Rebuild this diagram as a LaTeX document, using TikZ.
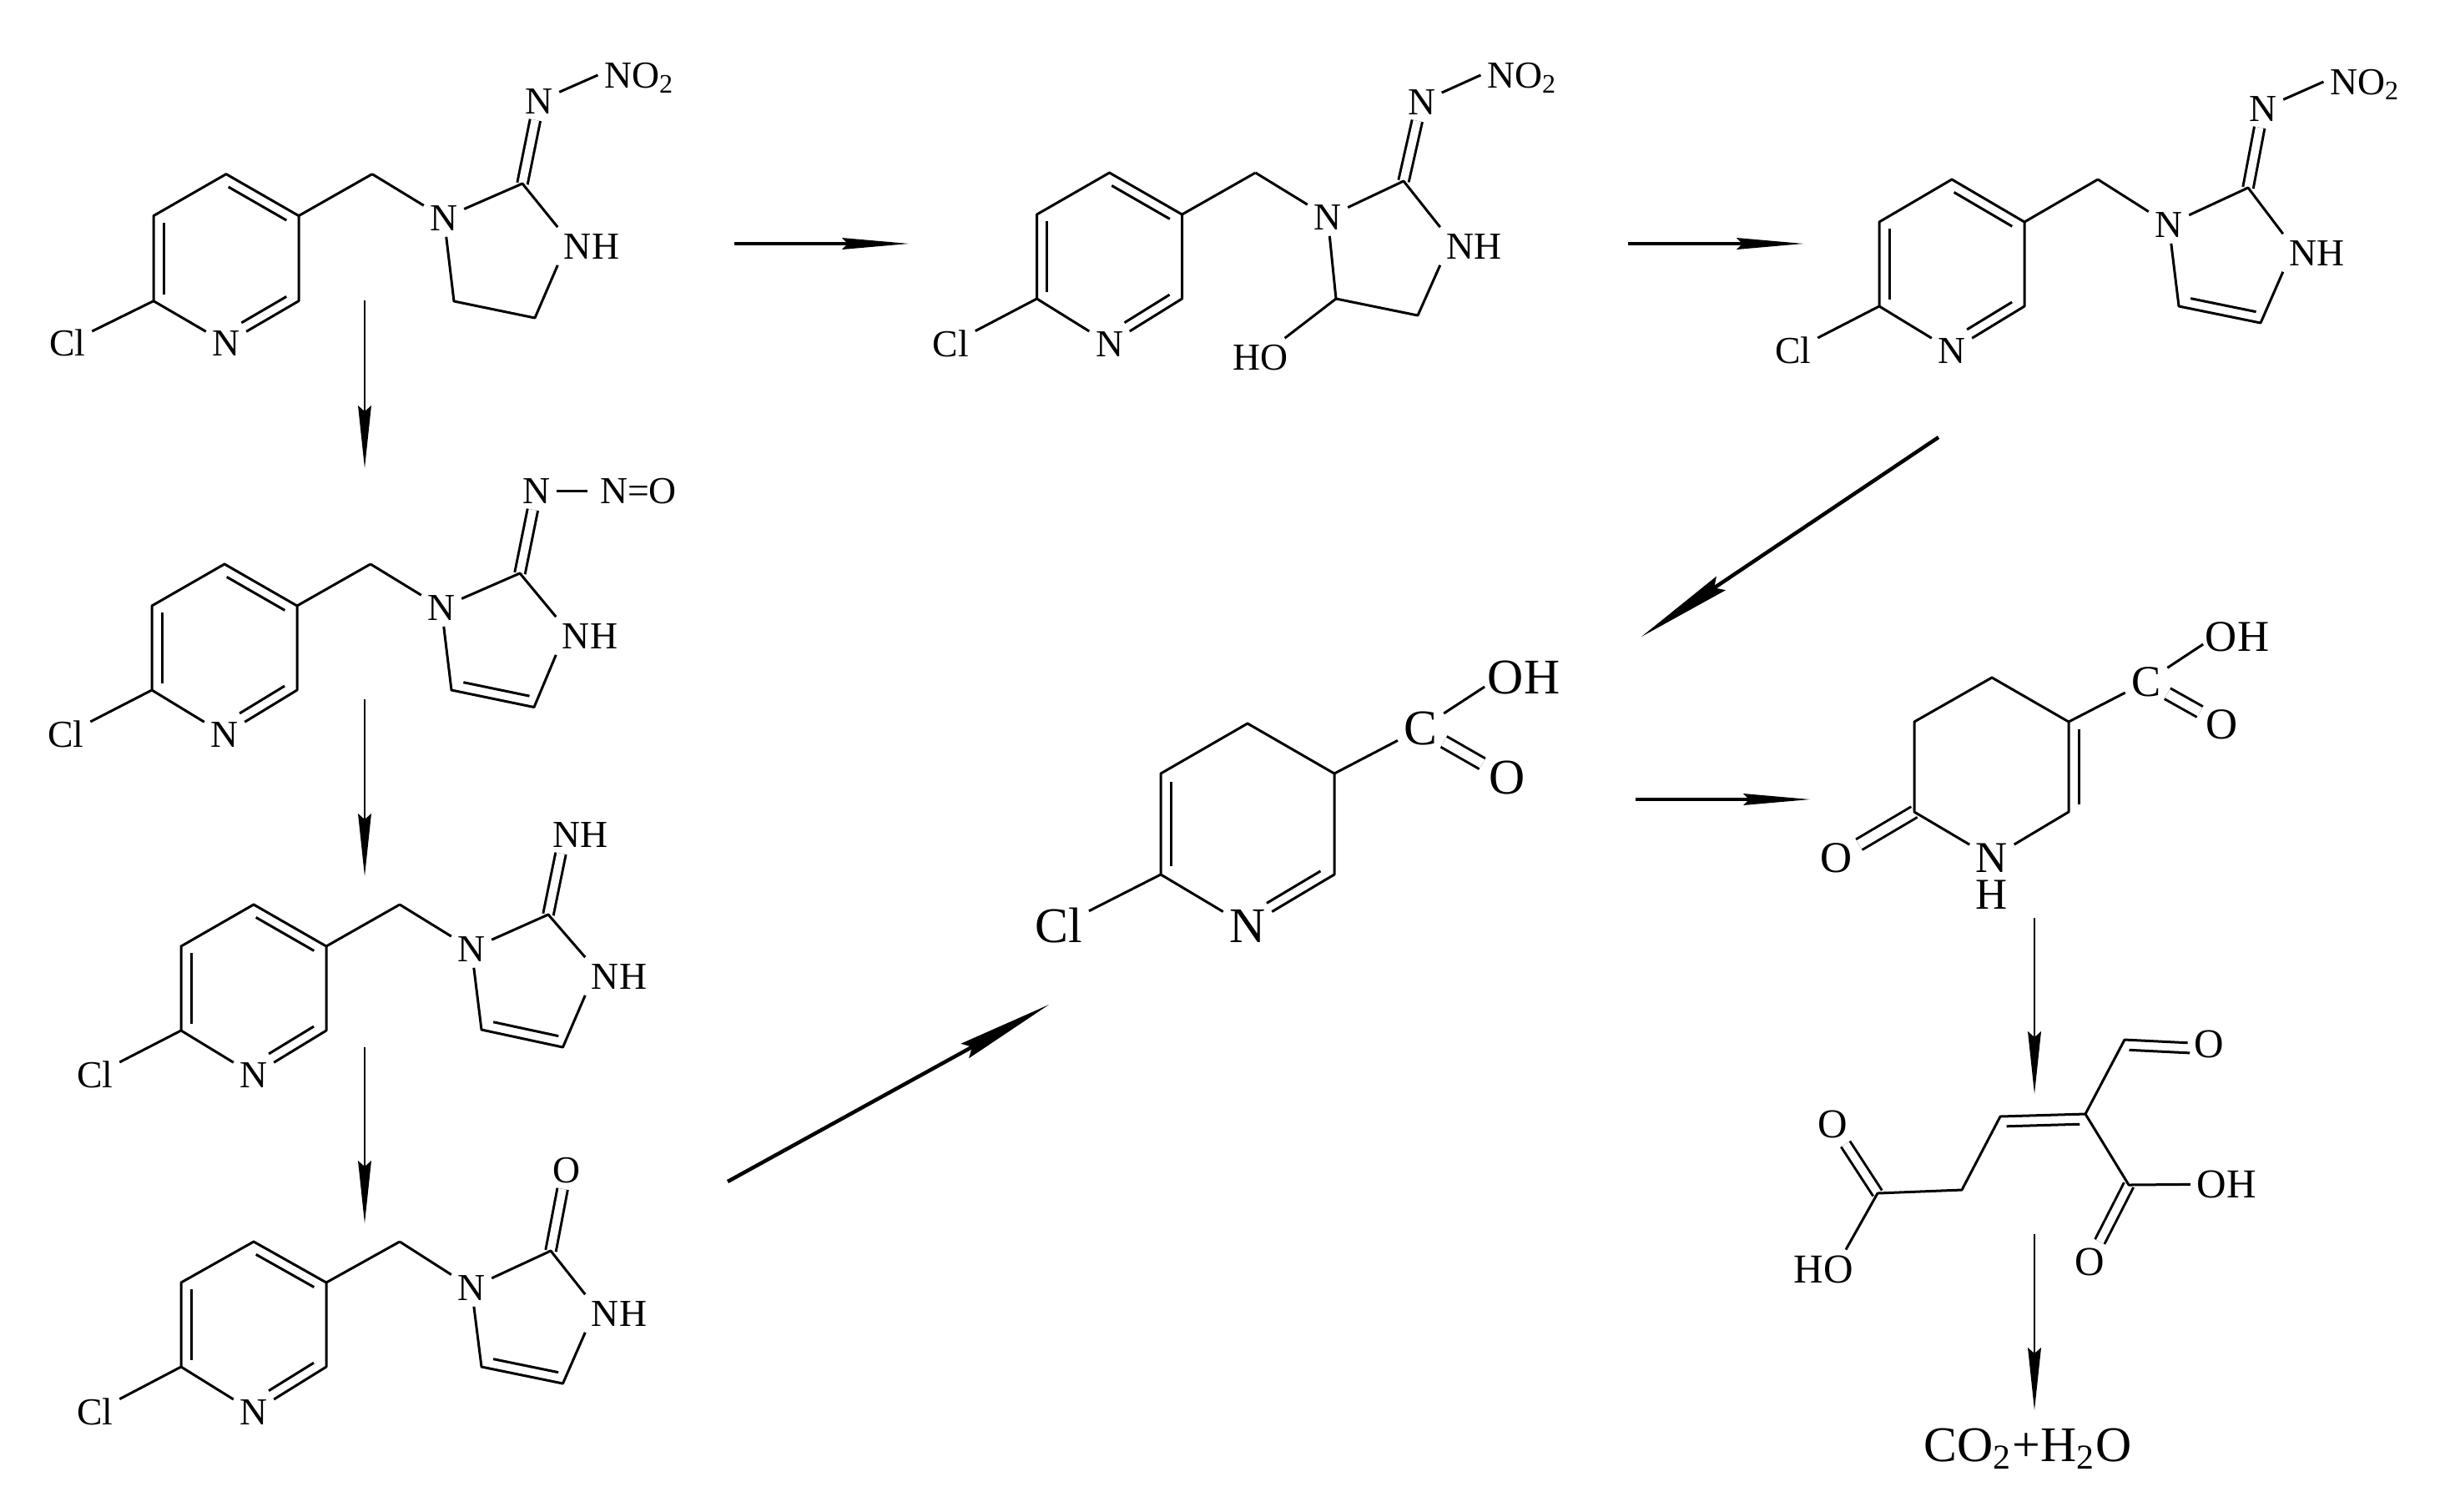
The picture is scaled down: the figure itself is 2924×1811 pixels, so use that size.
\documentclass[tikz,border=0pt]{standalone}
\usepackage{fontspec}
\setmainfont{Liberation Serif}
\usetikzlibrary{arrows.meta,calc}

\tikzset{
    atomo/.style={font=\fontsize{#1}{#1}\selectfont, text height=0.66*#1pt, text depth=0pt, inner sep=0.07cm},
    atomo/.default=13,
    enlace/.style={line width=0.03cm, line join=round},
    enlacedoble/.style={enlace, double, double distance=0.095cm},
    flecha/.style={line width=0.022cm, -{Stealth[length=0.75cm,width=0.16cm,inset=0.07cm,line width=0pt]}},
    flechah/.style={line width=0.04cm, -{Stealth[length=0.8cm,width=0.14cm,inset=0.07cm,line width=0pt]}},
    flechal/.style={line width=0.045cm, -{Stealth[length=1.15cm,width=0.2cm,inset=0.1cm,line width=0pt]}}
}
% Linea interior de un enlace doble
\newcommand{\inbond}[5]{\draw[enlace] ($(#1)!#4!(#2)!0.12cm!#3:(#2)$) -- ($(#1)!#5!(#2)!0.12cm!#3:(#2)$);}

\begin{document}
\begin{tikzpicture}[x=0.01cm,y=-0.01cm]
    \useasboundingbox (0,0) rectangle (2924,1811);

    % Anillos con Cl y CH2
    \foreach \m/\cx/\yt/\yu/\yl/\yn in {m1/271/208.6/258.6/360.7/411.4, m2/269/676/726/827/880,
        m3/304/1084/1134/1235/1288, m4/304/1488/1537/1638/1692,
        m5/1329.5/207/257/358/412, m6/2339/215/266/367/420}{
        \coordinate (\m top) at (\cx,\yt);
        \coordinate (\m ur) at (\cx+87,\yu);
        \coordinate (\m ul) at (\cx-87,\yu);
        \coordinate (\m ll) at (\cx-87,\yl);
        \coordinate (\m lr) at (\cx+87,\yl);
        \coordinate (\m ch) at (\cx+175,\yt);
        \node[atomo] (\m n) at (\cx,\yn) {N};
        \node[atomo] (\m cl) at (\cx-190,\yn) {Cl};
        \draw[enlace] (\m cl) -- (\m ll) -- (\m ul) -- (\m top) -- (\m ur) -- (\m lr) -- (\m n);
        \draw[enlace] (\m ll) -- (\m n);
        \draw[enlace] (\m ur) -- (\m ch);
        \inbond{\m ul}{\m ll}{90}{.08}{.92}
        \inbond{\m top}{\m ur}{-90}{.1}{.9}
        \inbond{\m lr}{\m n}{-90}{.1}{.72}
    }

    % Molecula 1
    \node[atomo] (m1na) at (532,261) {N};
    \coordinate (m1c) at (626,220);
    \node[atomo] (m1nb) at (646,121) {N};
    \node[atomo] (m1no) at (766,90) {NO\textsubscript{2}};
    \node[atomo] (m1nh) at (709,295) {NH};
    \coordinate (m1p) at (544,361);
    \coordinate (m1q) at (641,381);
    \draw[enlacedoble] (m1c) -- (m1nb);
    \draw[enlace] (m1nb) -- (m1no.west);
    \draw[enlace] (m1ch) -- (m1na);
    \draw[enlace] (m1na) -- (m1c) -- (m1nh.north west);
    \draw[enlace] (m1na) -- (m1p) -- (m1q) -- (m1nh.south west);

    % Molecula 2
    \node[atomo] (m2na) at (529,728) {N};
    \coordinate (m2c) at (623,687);
    \node[atomo] (m2nb) at (643,588) {N};
    \node[atomo] (m2no) at (765,588) {N=O};
    \node[atomo] (m2nh) at (707,762) {NH};
    \coordinate (m2p) at (541,827);
    \coordinate (m2q) at (640,847.5);
    \draw[enlacedoble] (m2c) -- (m2nb);
    \draw[enlace, shorten >=0.07cm] (m2nb) -- (m2no);
    \draw[enlace] (m2ch) -- (m2na);
    \draw[enlace] (m2na) -- (m2c) -- (m2nh.north west);
    \draw[enlace] (m2na) -- (m2p) -- (m2q) -- (m2nh.south west);
    \inbond{m2p}{m2q}{90}{.12}{.92}

    % Molecula 3
    \node[atomo] (m3na) at (565,1137) {N};
    \coordinate (m3c) at (657,1096);
    \node[atomo] (m3nb) at (696,1000) {NH};
    \node[atomo] (m3nh) at (742,1170) {NH};
    \coordinate (m3p) at (577,1234);
    \coordinate (m3q) at (674.5,1255);
    \draw[enlacedoble] (m3c) -- ($(m3nb.south)+(-24,0)$);
    \draw[enlace] (m3ch) -- (m3na);
    \draw[enlace] (m3na) -- (m3c) -- (m3nh.north west);
    \draw[enlace] (m3na) -- (m3p) -- (m3q) -- (m3nh.south west);
    \inbond{m3p}{m3q}{90}{.12}{.92}

    % Molecula 4
    \node[atomo] (m4na) at (565,1543) {N};
    \coordinate (m4c) at (660,1499);
    \node[atomo] (m4o) at (678.5,1402) {O};
    \node[atomo] (m4nh) at (742,1574) {NH};
    \coordinate (m4p) at (577,1638);
    \coordinate (m4q) at (674.5,1658);
    \draw[enlacedoble] (m4c) -- (m4o);
    \draw[enlace] (m4ch) -- (m4na);
    \draw[enlace] (m4na) -- (m4c) -- (m4nh.north west);
    \draw[enlace] (m4na) -- (m4p) -- (m4q) -- (m4nh.south west);
    \inbond{m4p}{m4q}{90}{.12}{.92}

    % Molecula 5
    \node[atomo] (m5na) at (1591,260) {N};
    \coordinate (m5c) at (1682,217);
    \node[atomo] (m5nb) at (1703.5,122) {N};
    \node[atomo] (m5no) at (1824,90) {NO\textsubscript{2}};
    \node[atomo] (m5nh) at (1766.5,295) {NH};
    \coordinate (m5p) at (1601,358);
    \coordinate (m5q) at (1699,378);
    \node[atomo] (m5ho) at (1510,428) {HO};
    \draw[enlacedoble] (m5c) -- (m5nb);
    \draw[enlace] (m5nb) -- (m5no.west);
    \draw[enlace] (m5ch) -- (m5na);
    \draw[enlace] (m5na) -- (m5c) -- (m5nh.north west);
    \draw[enlace] (m5na) -- (m5p) -- (m5q) -- (m5nh.south west);
    \draw[enlace] (m5p) -- (m5ho);

    % Molecula 6
    \node[atomo] (m6na) at (2599,269) {N};
    \coordinate (m6c) at (2694,225);
    \node[atomo] (m6nb) at (2712,130) {N};
    \node[atomo] (m6no) at (2834,98) {NO\textsubscript{2}};
    \node[atomo] (m6nh) at (2776.5,303) {NH};
    \coordinate (m6p) at (2611,367);
    \coordinate (m6q) at (2709,387);
    \draw[enlacedoble] (m6c) -- (m6nb);
    \draw[enlace] (m6nb) -- (m6no.west);
    \draw[enlace] (m6ch) -- (m6na);
    \draw[enlace] (m6na) -- (m6c) -- (m6nh.north west);
    \draw[enlace] (m6na) -- (m6p) -- (m6q) -- (m6nh.south west);
    \inbond{m6p}{m6q}{90}{.12}{.92}

    % Molecula 7
    \coordinate (m7top) at (1495,867);
    \coordinate (m7ur) at (1599,927);
    \coordinate (m7ul) at (1391,927);
    \coordinate (m7ll) at (1391,1048);
    \coordinate (m7lr) at (1599,1048);
    \node[atomo=17] (m7n) at (1495,1110) {N};
    \node[atomo=17] (m7cl) at (1269,1110) {Cl};
    \node[atomo=17] (m7c) at (1702.5,873) {C};
    \node[atomo=17] (m7oh) at (1826,812) {OH};
    \node[atomo=17] (m7o) at (1805.6,932) {O};
    \draw[enlace] (m7cl) -- (m7ll) -- (m7ul) -- (m7top) -- (m7ur) -- (m7lr) -- (m7n);
    \draw[enlace] (m7ll) -- (m7n);
    \draw[enlace] (m7ur) -- (m7c);
    \draw[enlace] (m7c) -- ($(m7oh.west)+(4,11)$);
    \draw[enlacedoble, double distance=0.115cm] (m7c) -- (m7o);
    \inbond{m7ul}{m7ll}{90}{.08}{.92}
    \inbond{m7lr}{m7n}{-90}{.1}{.72}

    % Molecula 8
    \coordinate (m8top) at (2387,812);
    \coordinate (m8ul) at (2294,865);
    \coordinate (m8ur) at (2479,865);
    \coordinate (m8ll) at (2294,973);
    \coordinate (m8lr) at (2479,973);
    \node[atomo=15] (m8n) at (2387,1028) {N};
    \node[atomo=15, inner sep=0pt] (m8h) at (2387,1072) {H};
    \node[atomo=15] (m8oa) at (2201,1028) {O};
    \node[atomo=15] (m8c) at (2572,817) {C};
    \node[atomo=15] (m8oh) at (2681,763) {OH};
    \node[atomo=15] (m8ob) at (2663,868) {O};
    \draw[enlacedoble, double distance=0.115cm] (m8ll) -- (m8oa);
    \draw[enlace] (m8n) -- (m8ll) -- (m8ul) -- (m8top) -- (m8ur) -- (m8lr) -- (m8n);
    \draw[enlace] (m8ur) -- (m8c);
    \draw[enlace] (m8c) -- ($(m8oh.west)+(5,9)$);
    \draw[enlacedoble, double distance=0.115cm] (m8c) -- (m8ob);
    \inbond{m8ur}{m8lr}{90}{.08}{.92}

    % Molecula 9
    \coordinate (m9a) at (2546,1246);
    \coordinate (m9b) at (2499,1335);
    \coordinate (m9d) at (2397,1338);
    \coordinate (m9e) at (2351,1426);
    \coordinate (m9f) at (2250,1430);
    \coordinate (m9g) at (2551,1420);
    \node[atomo=14] (m9oa) at (2647,1251) {O};
    \node[atomo=14] (m9ob) at (2196,1347) {O};
    \node[atomo=14] (m9ho) at (2185,1521.5) {HO};
    \node[atomo=14] (m9oh) at (2668,1419) {OH};
    \node[atomo=14] (m9oc) at (2504,1512) {O};
    \draw[enlacedoble] (m9f) -- (m9ob);
    \draw[enlacedoble] (m9g) -- (m9oc);
    \draw[enlace] (m9oa) -- (m9a) -- (m9b) -- (m9d) -- (m9e) -- (m9f) -- ($(m9ho.north)+(27,0)$);
    \draw[enlace] (m9b) -- (m9g) -- (m9oh);
    \inbond{m9a}{m9oa}{-90}{.06}{.78}
    \inbond{m9d}{m9b}{-90}{.07}{.93}

    % Productos finales
    \node[atomo=17] (prod) at (2430,1732) {CO\textsubscript{2}+H\textsubscript{2}O};

    % Flechas
    \foreach \f/\xa/\ya/\xb/\yb/\tipo in {fa/437/360/437/561/flecha, fb/437/838/437/1050/flecha,
        fc/437/1255/437/1466/flecha, fd/880/292/1089/292/flechah, fe/1951/292/2161/292/flechah,
        ff/2323/524/1967/763/flechal, fg/872/1416/1257/1204/flechal, fh/1960/958/2169/958/flechah,
        fi/2438/1100/2438/1311/flecha, fj/2438/1479/2438/1690/flecha}{
        \coordinate (\f i) at (\xa,\ya);
        \coordinate (\f t) at (\xb,\yb);
        \draw[\tipo] (\f i) -- (\f t);
    }
\end{tikzpicture}
\end{document}
